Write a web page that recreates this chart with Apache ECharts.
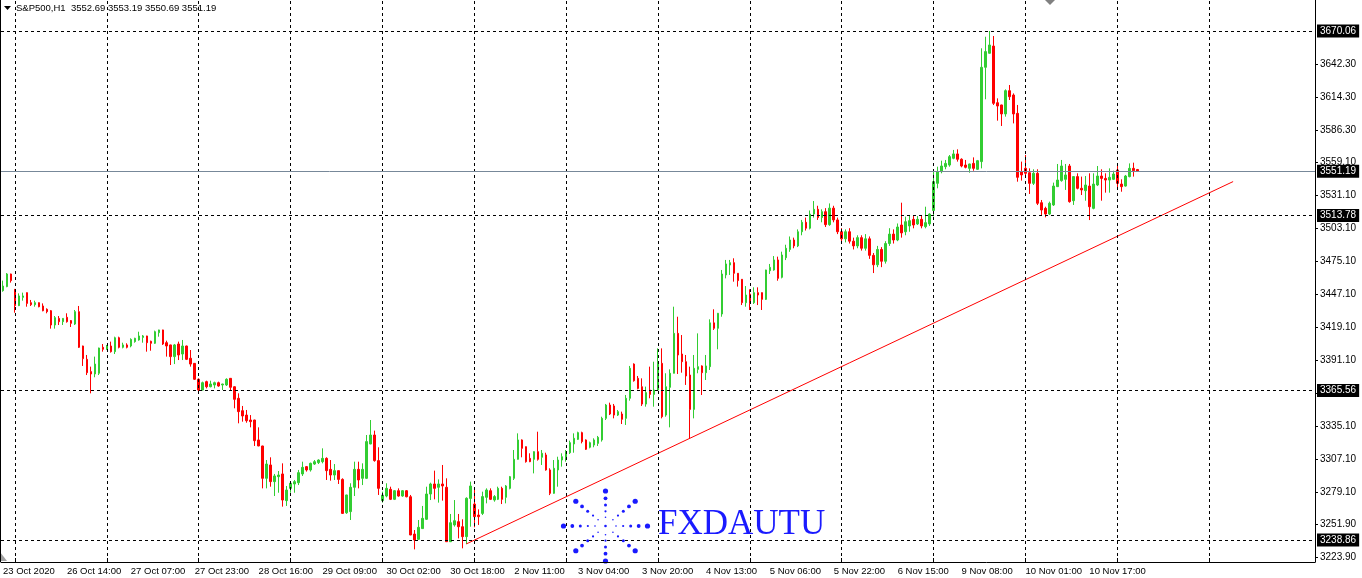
<!DOCTYPE html>
<html><head><meta charset="utf-8">
<script src="https://cdn.jsdelivr.net/npm/echarts@6/dist/echarts.min.js"></script>
<style>html,body{margin:0;padding:0;background:#fff}#c{width:1362px;height:578px}</style>
</head><body><div id="c"></div><script>
// ---- data: hourly candles [open, close, low, high] ----
const oct23to27 = [
[3450.1,3454.0,3449.2,3458.6],[3453.5,3464.2,3453.0,3465.0],[3464.2,3458.6,3456.9,3464.5],[3451.2,3437.4,3431.4,3451.5],
[3437.4,3445.6,3437.0,3447.8],[3444.4,3445.6,3441.6,3448.4],[3448.4,3439.3,3436.5,3448.6],[3439.9,3438.2,3437.1,3442.2],
[3438.2,3439.9,3436.5,3441.6],[3439.9,3436.5,3436.0,3440.1],[3437.1,3433.1,3432.6,3439.3],[3434.3,3432.3,3430.9,3435.1],
[3433.1,3421.0,3417.9,3433.7],[3421.0,3427.2,3417.9,3428.6],[3426.6,3423.8,3421.0,3428.6],[3423.8,3426.6,3421.0,3426.8],
[3427.5,3423.8,3423.0,3430.9],[3424.7,3422.4,3419.3,3425.2],[3421.8,3432.3,3421.0,3433.7],[3432.3,3402.1,3401.5,3437.1],
[3403.2,3392.5,3386.3,3403.5],[3391.9,3380.6,3378.6,3395.6],[3381.5,3379.5,3363.1,3385.7],[3379.5,3387.9,3376.7,3394.2],
[3380.1,3401.5,3378.6,3401.8],[3402.1,3400.4,3398.4,3404.9],[3400.4,3403.2,3399.8,3404.1],[3403.2,3398.4,3397.6,3406.9],
[3398.4,3410.2,3396.4,3411.1],[3410.2,3402.1,3401.2,3411.1],[3402.1,3404.1,3401.2,3406.0],[3404.1,3402.1,3401.2,3405.5],
[3403.2,3408.8,3402.1,3409.7],[3406.9,3409.7,3406.0,3410.2],[3408.3,3411.7,3407.7,3415.3],[3410.5,3411.7,3406.0,3412.5],
[3411.7,3406.0,3398.4,3411.9],[3407.2,3405.5,3399.2,3407.7],[3405.5,3415.3,3404.9,3416.2],[3414.5,3416.8,3411.1,3417.0],
[3416.8,3404.9,3404.1,3417.0],[3406.0,3403.2,3394.2,3407.7],[3404.1,3394.2,3387.1,3404.3],[3394.2,3404.1,3387.9,3404.9],
[3404.9,3395.6,3391.3,3406.9],[3396.4,3403.2,3391.3,3408.3],[3403.2,3391.9,3391.3,3403.5],[3392.8,3387.9,3385.7,3399.8],
[3388.5,3375.0,3374.4,3388.7],[3375.0,3365.9,3363.7,3375.8],[3365.9,3372.1,3365.6,3373.0],[3373.0,3368.7,3367.3,3373.8],
[3368.7,3371.0,3368.2,3373.8],[3370.2,3372.1,3367.3,3373.0],[3372.1,3369.3,3368.7,3373.0],[3370.2,3371.0,3365.9,3371.2],
[3370.2,3375.0,3369.3,3375.8],[3375.8,3368.2,3365.9,3376.0]
];
const oct28to30 = [
[3368.7,3358.0,3350.4,3369.0],[3358.9,3347.6,3337.7,3363.1],[3348.4,3343.9,3339.1,3352.4],[3344.7,3339.9,3338.2,3349.0],
[3340.5,3339.1,3334.3,3344.7],[3340.5,3323.0,3318.5,3340.7],[3323.6,3318.5,3318.3,3334.3],[3318.5,3291.1,3282.6,3318.7],
[3291.1,3303.2,3282.6,3306.6],[3302.4,3288.3,3284.0,3308.9],[3288.3,3293.1,3276.1,3294.8],[3292.5,3293.9,3278.9,3297.3],
[3294.8,3272.7,3267.1,3303.8],[3272.2,3281.2,3267.7,3284.6],[3282.6,3286.9,3278.9,3288.3],[3286.3,3288.3,3278.9,3289.7],
[3287.4,3295.9,3285.4,3298.2],[3294.8,3300.4,3293.1,3305.2],[3301.0,3298.2,3296.8,3301.5],[3298.2,3303.8,3296.8,3304.4],
[3303.2,3305.2,3302.4,3306.6],[3304.4,3306.6,3303.2,3307.2],[3305.2,3308.0,3303.8,3316.5],[3308.0,3297.6,3289.7,3308.9],
[3298.7,3293.9,3289.1,3306.6],[3293.9,3297.6,3289.7,3303.2],[3297.6,3290.2,3286.3,3297.8],[3290.2,3261.4,3260.9,3291.1],
[3261.9,3277.0,3261.0,3277.2],[3262.9,3283.5,3255.8,3286.9],[3283.5,3298.7,3276.1,3305.2],[3298.7,3289.7,3282.6,3305.2],
[3291.1,3298.7,3285.4,3303.8],[3291.1,3322.2,3290.5,3327.8],[3320.2,3327.8,3320.0,3340.5],[3327.8,3306.1,3305.2,3331.5],
[3306.1,3282.6,3277.0,3317.4],[3272.2,3276.9,3270.5,3279.8],[3276.1,3282.6,3275.0,3286.9],[3281.8,3273.3,3272.7,3284.0],
[3273.3,3280.6,3272.7,3281.2],[3280.6,3276.1,3275.5,3282.6],[3276.1,3280.6,3275.5,3281.2],[3280.6,3275.5,3275.0,3281.2],
[3275.5,3243.1,3242.9,3277.0],[3243.9,3238.9,3230.9,3247.3],[3239.4,3249.6,3238.9,3255.8],[3248.5,3257.2,3248.4,3267.7],
[3256.4,3277.8,3255.8,3284.0],[3277.8,3286.3,3272.7,3287.4],[3286.3,3282.6,3273.3,3297.6],[3283.5,3286.3,3270.5,3290.2],
[3286.3,3284.6,3272.2,3302.4],[3283.5,3237.4,3237.2,3291.1],[3237.4,3253.5,3237.2,3260.9],[3251.6,3255.2,3250.2,3272.7],
[3254.4,3250.1,3240.2,3260.9],[3250.1,3241.7,3231.8,3256.4],[3241.7,3274.2,3235.5,3275.0],[3274.1,3284.6,3250.1,3288.3],
[3269.3,3258.6,3249.6,3281.2],[3260.0,3258.6,3251.6,3264.8]
];
const nov2to3 = [
[3261.4,3275.6,3260.0,3279.8],[3275.0,3281.2,3269.9,3282.6],[3280.6,3273.3,3272.7,3282.6],[3272.7,3275.6,3271.3,3276.9],
[3273.3,3282.6,3272.7,3284.0],[3282.6,3273.3,3269.3,3284.0],[3275.0,3284.6,3269.9,3285.4],[3282.6,3292.5,3281.8,3293.1],
[3291.1,3307.2,3289.7,3315.1],[3307.2,3323.6,3307.0,3329.2],[3323.6,3316.5,3308.9,3324.1],[3317.9,3305.2,3304.4,3318.1],
[3308.0,3305.2,3304.8,3312.3],[3307.2,3313.7,3295.3,3314.0],[3313.7,3307.2,3306.1,3330.6],[3308.9,3312.3,3302.4,3315.1],
[3310.9,3298.2,3297.6,3312.8],[3298.2,3278.4,3276.9,3299.6],[3278.4,3299.6,3278.0,3306.6],[3298.2,3306.6,3284.0,3309.4],
[3306.6,3309.4,3301.0,3312.3],[3308.9,3313.7,3305.2,3315.1],[3312.8,3321.3,3311.7,3323.0],[3320.2,3325.0,3312.8,3329.2],
[3324.1,3329.8,3323.6,3330.6],[3329.8,3322.2,3320.7,3330.6],[3323.6,3315.7,3315.1,3324.1],[3317.4,3321.3,3316.5,3322.2],
[3319.3,3323.6,3317.4,3325.0],[3320.7,3325.8,3318.5,3327.0],[3323.6,3341.9,3322.2,3343.3],[3341.9,3353.2,3340.5,3354.1],
[3353.2,3345.6,3344.7,3355.2],[3352.4,3344.7,3341.9,3354.1],[3344.7,3347.6,3343.9,3349.0],[3345.6,3341.1,3337.1,3347.6]
];
const nov3to4 = [
[3341.9,3358.9,3336.3,3361.7],[3358.9,3384.3,3356.9,3386.3],[3387.9,3373.8,3373.0,3388.5],[3375.8,3367.3,3366.5,3377.8],
[3368.7,3354.0,3352.4,3375.8],[3354.0,3363.7,3351.8,3368.8],[3365.9,3362.2,3358.9,3385.7],[3362.2,3365.9,3351.8,3389.9],
[3365.9,3389.9,3365.7,3401.2],[3388.5,3343.3,3341.9,3401.2],[3344.7,3368.7,3343.3,3380.1],[3368.2,3380.1,3334.3,3383.4],
[3380.1,3413.9,3380.0,3436.5],[3413.9,3395.6,3379.5,3428.0],[3396.4,3389.9,3380.6,3412.5],[3389.9,3377.8,3370.2,3395.6],
[3378.6,3349.5,3325.0,3385.7],[3349.5,3384.3,3341.9,3395.6],[3383.4,3385.7,3380.1,3413.9],[3386.3,3380.6,3361.7,3386.8],
[3380.6,3386.3,3374.4,3395.6],[3385.7,3422.8,3382.9,3425.8],[3422.8,3418.2,3416.8,3434.3],[3418.2,3430.9,3400.4,3431.2],
[3430.3,3464.2,3428.0,3467.6],[3463.4,3472.7,3460.5,3476.1],[3471.8,3473.8,3463.4,3476.1],[3473.8,3464.8,3457.7,3477.5],
[3464.8,3458.6,3453.5,3465.0],[3459.7,3439.9,3437.9,3459.9],[3439.9,3446.4,3436.5,3454.0],[3447.2,3439.3,3433.7,3451.2],
[3439.9,3448.4,3438.8,3452.9],[3448.4,3446.4,3437.9,3452.9],[3448.4,3442.7,3433.7,3448.6],[3442.7,3467.6,3442.2,3467.8],
[3467.0,3469.8,3464.2,3472.7],[3467.6,3476.1,3467.0,3479.4],[3476.1,3460.5,3458.5,3478.9],[3461.4,3480.3,3460.5,3483.1]
];
const nov5to6 = [
[3478.0,3486.0,3476.0,3489.0],[3485.0,3493.0,3483.0,3496.0],[3493.0,3488.0,3486.0,3495.0],[3488.0,3500.0,3487.0,3502.0],
[3500.0,3508.0,3497.0,3510.0],[3508.0,3503.0,3501.0,3512.0],[3503.0,3515.0,3502.0,3518.0],[3515.0,3519.0,3512.0,3526.0],
[3519.0,3512.0,3510.0,3522.0],[3512.0,3517.0,3508.0,3519.0],[3517.0,3506.0,3504.0,3520.0],[3506.0,3520.0,3505.0,3524.0],
[3520.0,3510.0,3508.0,3522.0],[3510.0,3500.0,3498.0,3512.0],[3500.0,3494.0,3492.0,3503.0],[3494.0,3500.0,3491.0,3502.0],
[3500.0,3492.0,3490.0,3503.0],[3492.0,3488.0,3485.0,3495.0],[3488.0,3495.0,3486.0,3497.0],[3495.0,3486.0,3484.0,3497.0],
[3486.0,3494.0,3484.0,3498.0],[3494.0,3480.0,3477.0,3496.0],[3480.0,3472.0,3465.0,3482.0],[3472.0,3485.0,3470.0,3488.0],
[3485.0,3475.0,3470.0,3487.0],[3475.0,3490.0,3473.0,3492.0],[3490.0,3498.0,3488.0,3503.0],[3498.0,3493.0,3490.0,3502.0],
[3493.0,3504.0,3492.0,3507.0],[3505.7,3499.0,3495.0,3524.6],[3500.0,3508.5,3497.0,3512.8],[3504.9,3509.4,3500.0,3514.2],
[3510.5,3505.7,3502.9,3513.3],[3506.6,3510.5,3505.7,3513.3],[3510.5,3504.9,3502.9,3514.2],[3504.3,3507.7,3502.9,3521.2],
[3506.6,3515.0,3504.9,3515.6]
];
const nov6to11 = [
[3518.0,3542.4,3513.0,3550.9],[3541.0,3550.9,3536.8,3555.1],[3550.9,3555.7,3549.5,3560.2],[3555.1,3557.9,3552.9,3560.8],
[3556.5,3563.6,3555.1,3565.0],[3562.2,3565.9,3561.4,3569.3],[3565.9,3561.4,3559.4,3569.8],[3561.4,3555.7,3554.6,3562.2],
[3556.5,3554.6,3553.7,3560.8],[3553.7,3557.4,3550.0,3557.6],[3557.9,3553.7,3551.7,3563.0],[3552.9,3560.2,3552.3,3560.8],
[3559.4,3639.3,3553.7,3655.4],[3639.3,3652.6,3612.2,3665.2],[3651.2,3658.2,3651.0,3670.06],[3657.3,3608.8,3607.4,3665.8],
[3609.3,3606.5,3594.1,3613.0],[3607.4,3599.8,3589.6,3607.6],[3599.8,3619.5,3597.5,3620.6],[3619.5,3614.4,3611.6,3624.3],
[3615.8,3599.8,3591.8,3617.2],[3600.3,3546.1,3542.4,3607.4],[3550.9,3548.1,3543.3,3559.4],[3553.7,3549.5,3546.7,3565.0],
[3550.0,3541.0,3532.0,3553.7],[3541.0,3549.5,3539.6,3552.9],[3549.5,3524.1,3522.6,3552.9],[3524.6,3518.4,3514.2,3526.9],
[3519.8,3515.0,3512.2,3521.2],[3515.0,3524.1,3514.2,3525.5],[3522.7,3538.7,3521.8,3541.6],[3538.2,3543.8,3538.0,3557.4],
[3543.3,3555.7,3542.4,3560.8],[3544.4,3548.1,3535.4,3557.4],[3555.7,3525.5,3524.6,3557.4],[3526.3,3546.7,3522.7,3547.2],
[3546.7,3536.8,3535.9,3549.5],[3536.8,3535.4,3531.1,3546.7],[3534.8,3539.6,3526.3,3547.2],[3538.7,3521.2,3509.9,3549.5],
[3519.8,3540.4,3519.0,3549.5],[3539.6,3547.2,3538.7,3555.7],[3547.2,3545.2,3526.3,3552.9],[3545.2,3543.8,3533.1,3549.5],
[3543.8,3546.1,3533.1,3553.7],[3544.4,3548.9,3543.8,3551.7],[3552.3,3541.0,3536.8,3556.5],[3540.4,3538.2,3533.9,3544.4],
[3538.7,3547.2,3538.2,3548.1],[3546.7,3553.7,3546.1,3557.9],[3553.7,3551.7,3546.7,3558.5],[3552.69,3551.19,3550.69,3553.19]
];
const timeLabels = ['23 Oct 2020','26 Oct 14:00','27 Oct 07:00','27 Oct 23:00','28 Oct 16:00','29 Oct 09:00',
  '30 Oct 02:00','30 Oct 18:00','2 Nov 11:00','3 Nov 04:00','3 Nov 20:00','4 Nov 13:00','5 Nov 06:00',
  '5 Nov 22:00','6 Nov 15:00','9 Nov 08:00','10 Nov 01:00','10 Nov 17:00'];
const priceTicks = [3642.30,3614.30,3586.30,3559.10,3531.10,3503.10,3475.10,3447.10,3419.10,3391.10,
  3363.10,3335.10,3307.10,3279.10,3251.90,3223.90];
const levelLines = [3670.06, 3513.78, 3365.56, 3238.86];
const bidPrice = 3551.19;
const symbolName = 'S&P500,H1';
const headerQuote = ['3552.69','3553.19','3550.69','3551.19'];
const trendLine = [[116, 3235.5], [308, 3542.5]];

// ---- build ----
const candles = [].concat(oct23to27, oct28to30, nov2to3, nov3to4, nov5to6, nov6to11);
const TOTAL_SLOTS = 329;            // visible bar slots incl. right shift
const cats = []; for (let i = 0; i < TOTAL_SLOTS; i++) cats.push(String(i));
const LABEL_STEP = 16, GRID_STEP = 23, GRID_START = 3, GRID_END = 310;
const isGrid = (i) => i >= GRID_START && i <= GRID_END && (i - GRID_START) % GRID_STEP === 0;
const vGrid = cats.map(Number).filter(isGrid);

const chart = echarts.init(document.getElementById('c'), null, {renderer: 'canvas'});
const FONT = 'Liberation Sans';

// watermark starburst (decoration)
const star = [];
const cx = 605.5, cy = 526, ax = 42, by = 35;
const ts = [0.25, 0.42, 0.6, 0.79, 1.0], rs = [0.8, 1.1, 1.5, 1.9, 2.6];
for (let k = 0; k < 8; k++) {
  const a = k * Math.PI / 4;
  ts.forEach((t, j) => star.push({type: 'circle', silent: true,
    shape: {cx: cx + Math.cos(a) * ax * t, cy: cy + Math.sin(a) * by * t, r: rs[j]},
    style: {fill: '#1a1aff'}}));
}
star.push({type: 'circle', silent: true, shape: {cx: cx, cy: cy, r: 1.3}, style: {fill: '#1a1aff'}});

const levelLabel = {show: true, position: 'end', distance: 2, formatter: p => p.value.toFixed(2),
  backgroundColor: '#000', color: '#fff', fontFamily: FONT, fontSize: 10, padding: [2, 3, 1, 3]};

chart.setOption({
  animation: false,
  backgroundColor: '#fff',
  grid: {left: 0, top: 0, width: 1315, height: 562, containLabel: false},
  xAxis: {
    type: 'category', data: cats, boundaryGap: true,
    axisLine: {show: true, lineStyle: {color: '#000', width: 1}},
    axisTick: {show: true, alignWithLabel: true, inside: true, length: 4,
      interval: (i) => isGrid(i), lineStyle: {color: '#000'}},
    axisLabel: {show: true, interval: (i) => i % LABEL_STEP === 0 && i / LABEL_STEP < timeLabels.length,
      formatter: (v, i) => timeLabels[i / LABEL_STEP] || '', align: 'left', margin: 4,
      color: '#000', fontFamily: FONT, fontSize: 9.5, hideOverlap: false},
    splitLine: {show: false}
  },
  yAxis: {
    type: 'value', position: 'right', min: 3220.21, max: 3696.32, scale: true,
    axisLine: {show: true, lineStyle: {color: '#000', width: 1}},
    axisTick: {show: true, inside: false, length: 3, customValues: priceTicks, lineStyle: {color: '#000'}},
    axisLabel: {show: true, customValues: priceTicks, formatter: v => Number(v).toFixed(2), margin: 5,
      color: '#000', fontFamily: FONT, fontSize: 10, hideOverlap: false},
    splitLine: {show: false}
  },
  series: [
    {type: 'line', data: [], z: 1, silent: true,
      markLine: {silent: true, symbol: ['none', 'none'], animation: false,
        lineStyle: {color: '#000', type: [3, 3], width: 1},
        data: [].concat(
          vGrid.map(i => ({xAxis: i, label: {show: false}})),
          levelLines.map(v => ({yAxis: v, label: levelLabel}))
        )}},
    {type: 'line', data: [], z: 2, silent: true, color: '#778899',
      markLine: {silent: true, symbol: ['none', 'none'], animation: false,
        lineStyle: {color: '#778899', type: 'solid', width: 1},
        data: [{yAxis: bidPrice, label: levelLabel}]}},
    {type: 'candlestick', data: candles, z: 3, barWidth: 2, silent: true, clip: false,
      itemStyle: {color: '#32CD32', color0: '#FF0000', borderColor: '#32CD32', borderColor0: '#FF0000', borderWidth: 1}},
    {type: 'line', data: trendLine, z: 4, silent: true, symbol: 'none',
      lineStyle: {color: '#FF0000', width: 1}}
  ],
  graphic: [
    {type: 'polygon', silent: true, shape: {points: [[4, 6], [11, 6], [7.5, 10]]}, style: {fill: '#000'}},
    {type: 'text', silent: true, left: 16, top: 3,
      style: {text: symbolName + '  ' + headerQuote.join(' '), fill: '#000', font: '9.5px ' + FONT}},
    {type: 'polygon', silent: true, shape: {points: [[1045, 0], [1055, 0], [1050, 5]]}, style: {fill: '#808080'}},
    {type: 'polygon', silent: true, shape: {points: [[0, 552], [0, 561], [7, 561]]}, style: {fill: '#a0a0a0'}},
    {type: 'line', silent: true, shape: {x1: 0.5, y1: 0, x2: 0.5, y2: 562}, style: {stroke: '#000', lineWidth: 1}},
    {type: 'group', silent: true, children: star},
    {type: 'text', silent: true, x: 658, y: 525,
      style: {text: 'FXDAUTU', fill: '#1a1aff', font: '35px "Liberation Serif"', verticalAlign: 'middle'}}
  ]
});
</script></body></html>
